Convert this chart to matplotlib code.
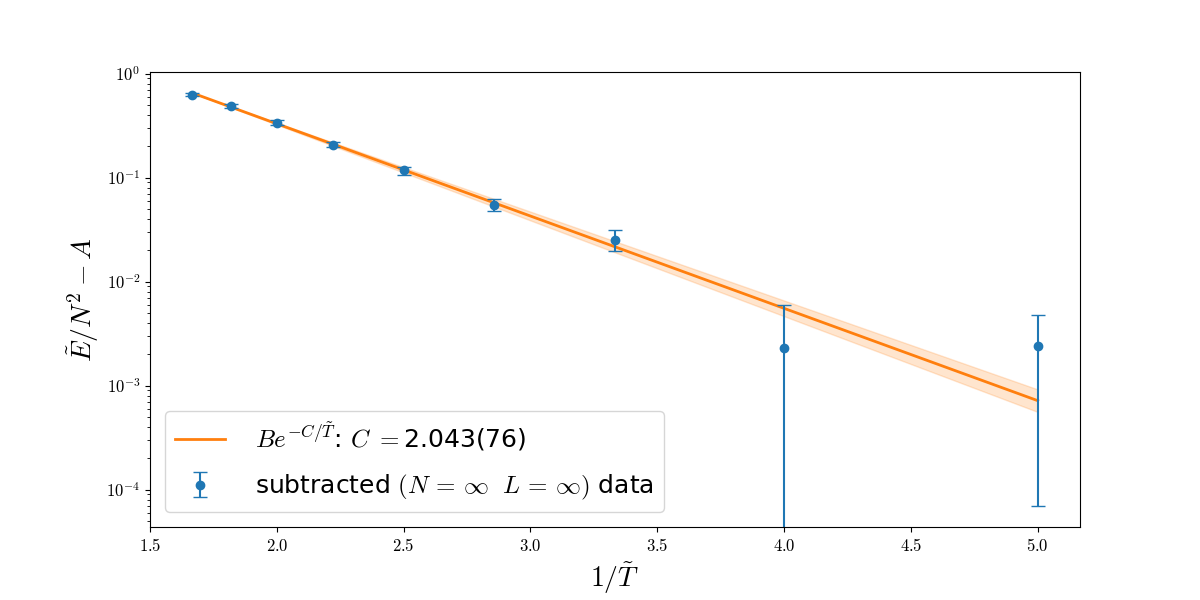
import numpy as np
import matplotlib
matplotlib.use('Agg')
import matplotlib.pyplot as plt
from matplotlib.ticker import FuncFormatter

plt.rcParams['mathtext.fontset'] = 'cm'

# inverse temperature 1/T and subtracted energy values
inv_T = [1.667, 1.818, 2.0, 2.222, 2.5, 2.857, 3.333, 4.0, 5.0]
E_sub = [0.628, 0.49, 0.338, 0.208, 0.117, 0.055, 0.0254, 0.00232, 0.00243]
E_err = [0.025, 0.02, 0.016, 0.013, 0.0103, 0.007, 0.0058, 0.0037, 0.00236]

# fit parameters B exp(-C/T)
B = 19.6
C = 2.043
dC = 0.076
x_pivot = 1.72

x = np.linspace(min(inv_T), max(inv_T), 200)
y_fit = B*np.exp(-C*x)
y_hi = y_fit*np.exp(dC*(x - x_pivot))
y_lo = y_fit*np.exp(-dC*(x - x_pivot))

fig, ax = plt.subplots(figsize=(12, 6), dpi=100)
fig.subplots_adjust(left=0.125, right=0.9, bottom=0.122, top=0.88)

ax.plot(x, y_fit, color='tab:orange', lw=2,
        label=r'$Be^{-C/\tilde{T}}$: $C\ =$2.043(76)')
ax.fill_between(x, y_lo, y_hi, color='tab:orange', alpha=0.2, lw=1)
ax.errorbar(inv_T, E_sub, yerr=E_err, fmt='o', color='tab:blue', capsize=5,
            label=r'subtracted $(N\,=\,\infty\ \ L\,=\,\infty)$ data')

ax.set_yscale('log')
ax.set_ylim(4.4e-5, 1.035)
ax.set_xlim(1.5, 5.1667)
ax.xaxis.set_major_formatter(FuncFormatter(lambda v, p: '$%.1f$' % v))
ax.yaxis.set_major_formatter(FuncFormatter(lambda v, p: '$10^{%d}$' % int(round(np.log10(v)))))
ax.tick_params(labelsize=12)

ax.set_xlabel(r'$1/\tilde{T}$', fontsize=20)
ax.set_ylabel(r'$\tilde{E}/N^2-A$', fontsize=20)

ax.legend(loc='lower left', fontsize=18, labelspacing=0.75, handletextpad=1.2,
          borderaxespad=0.6)

fig.savefig('out.png')
